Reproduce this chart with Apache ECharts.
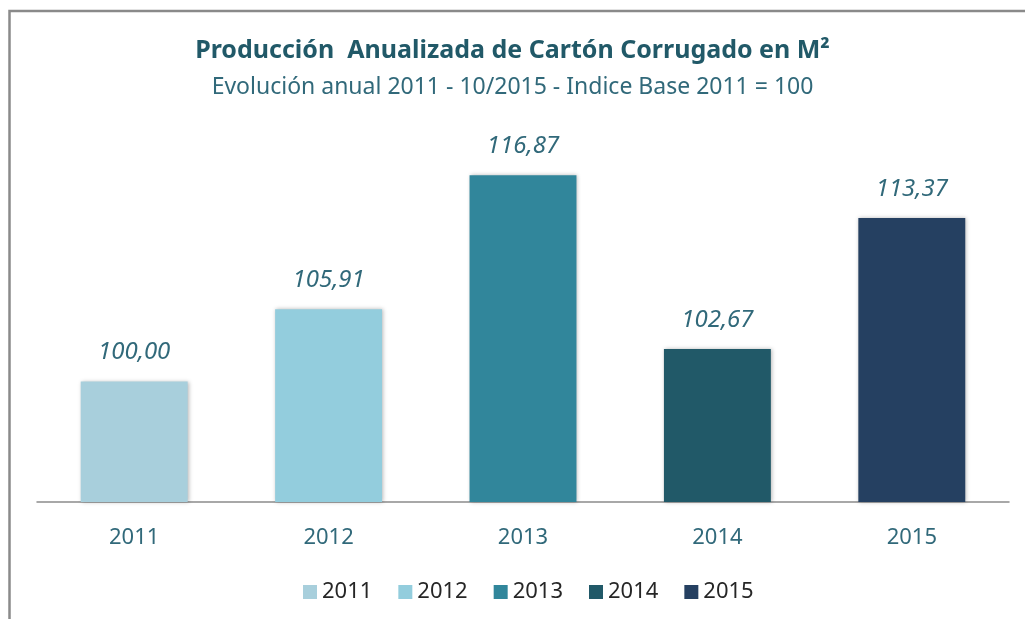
<!DOCTYPE html>
<html>
<head>
<meta charset="utf-8">
<script src="https://cdn.jsdelivr.net/npm/echarts@6/dist/echarts.min.js"></script>
<style>
html,body{margin:0;padding:0;background:#fff;}
#chart{width:1025px;height:619px;}
</style>
</head>
<body>
<div id="chart"></div>
<script>
var categories = ['2011', '2012', '2013', '2014', '2015'];
var seriesNames = ['2011', '2012', '2013', '2014', '2015'];
var values = [100.00, 105.91, 116.87, 102.67, 113.37];
var colors = ['#A8CFDC', '#93CDDD', '#31869B', '#215968', '#254061'];

var FONT = '"Noto Sans", "Open Sans", sans-serif';
var chart = echarts.init(document.getElementById('chart'));

var series = seriesNames.map(function (name, i) {
  var data = categories.map(function (c, j) { return j === i ? values[i] : '-'; });
  return {
    name: name,
    type: 'bar',
    data: data,
    barGap: '-100%',
    barCategoryGap: '45%',
    itemStyle: {
      color: colors[i],
      shadowBlur: 4,
      shadowColor: 'rgba(0,0,0,0.28)',
      shadowOffsetX: 1,
      shadowOffsetY: 0
    },
    label: {
      show: true,
      position: 'top',
      distance: 17,
      fontFamily: FONT,
      fontStyle: 'italic',
      fontSize: 24,
      color: '#31697A',
      formatter: function (p) { return p.value.toFixed(2).replace('.', ','); }
    }
  };
});

chart.setOption({
  animation: false,
  backgroundColor: '#ffffff',
  title: [{
    text: 'Producción  Anualizada de Cartón Corrugado en M²',
    left: 'center',
    top: 33,
    textStyle: { fontFamily: FONT, fontWeight: 'bold', fontSize: 25, color: '#215968' }
  }, {
    text: 'Evolución anual 2011 - 10/2015 - Indice Base 2011 = 100',
    left: 'center',
    top: 71,
    textStyle: { fontFamily: FONT, fontWeight: 'normal', fontSize: 23, color: '#31697A' }
  }],
  legend: {
    data: seriesNames,
    bottom: 11,
    left: 298,
    itemWidth: 14,
    itemHeight: 14,
    itemGap: 26,
    icon: 'rect',
    textStyle: { fontFamily: FONT, fontSize: 22, color: '#262626' }
  },
  grid: { left: 37, right: 16, top: 137, bottom: 117 },
  xAxis: {
    type: 'category',
    data: categories,
    axisLine: { lineStyle: { color: '#8C8C8C', width: 1.5 } },
    axisTick: { show: false },
    axisLabel: { fontFamily: FONT, fontSize: 22, color: '#31697A', margin: 25 }
  },
  yAxis: {
    type: 'value',
    min: 90.15,
    max: 120,
    show: false,
    splitLine: { show: false }
  },
  graphic: [{
    type: 'polyline',
    shape: { points: [[9.5, 619], [9.5, 11], [1025, 11]] },
    style: { stroke: '#8A8A8A', lineWidth: 2.5, fill: null }
  }],
  series: series
});
</script>
</body>
</html>
